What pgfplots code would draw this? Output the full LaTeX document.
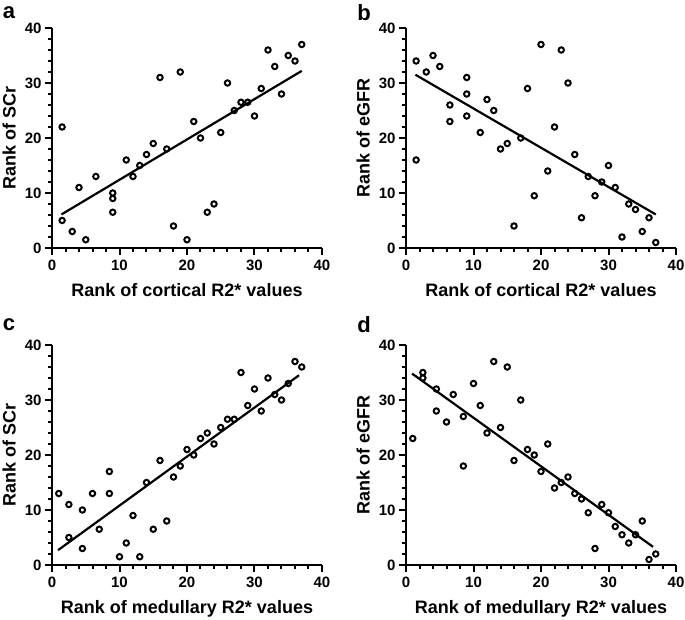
\documentclass[border=0pt]{standalone}
\usepackage{fontspec}
\setmainfont{Liberation Sans}
\usepackage{pgfplots}
\pgfplotsset{compat=1.18}

\pgfplotsset{
  rankpanel/.style={
    scale only axis, width=270pt, height=220pt,
    xmin=0, xmax=40, ymin=0, ymax=40,
    axis x line=bottom, axis y line=left,
    x axis line style={-, line width=2.5pt, black},
    y axis line style={-, line width=2.5pt, black},
    xtick={0,10,20,30,40}, ytick={0,10,20,30,40},
    xticklabels={\textbf{0},\textbf{10},\textbf{20},\textbf{30},\textbf{40}},
    yticklabels={\textbf{0},\textbf{10},\textbf{20},\textbf{30},\textbf{40}},
    xtick align=outside, ytick align=outside,
    major tick length=7pt,
    xtick style={black, line width=2pt},
    ytick style={black, line width=2pt},
    tick label style={font=\fontsize{15}{15}\selectfont\bfseries},
    xticklabel style={yshift=-1pt},
    label style={font=\fontsize{18}{18}\selectfont\bfseries},
    xlabel style={yshift=-6pt},
    ylabel style={yshift=2pt},
    clip=false,
  },
  pts/.style={only marks, mark=o, mark size=2.7pt, black, mark options={line width=2pt}},
  fit/.style={black, line width=2.2pt, no marks},
}

% tick marks along both axes: majors every 10, minors every 2
\newcommand{\rankticks}{%
  \pgfplotsinvokeforeach{0,10,20,30,40}{%
    \fill[black] (axis cs:##1,0) ++(-1pt,0pt) rectangle ++(2pt,-7pt);
    \fill[black] (axis cs:0,##1) ++(0pt,-1pt) rectangle ++(-7pt,2pt);}%
  \pgfplotsinvokeforeach{2,4,6,8,12,14,16,18,22,24,26,28,32,34,36,38}{%
    \fill[black] (axis cs:##1,0) ++(-1pt,0pt) rectangle ++(2pt,-4.5pt);
    \fill[black] (axis cs:0,##1) ++(0pt,-1pt) rectangle ++(-4.5pt,2pt);}%
}

\pgfplotstableread{
x y
1.5 22
1.5 5
3 3
4 11
5 1.5
6.5 13
9 10
9 9
9 6.5
11 16
12 13
13 15
14 17
15 19
16 31
17 18
18 4
19 32
20 1.5
21 23
22 20
23 6.5
24 8
25 21
26 30
27 25
28 26.5
29 26.5
30 24
31 29
32 36
33 33
34 28
35 35
36 34
37 37
}\dataA

\pgfplotstableread{
x y
1.5 34
1.5 16
3 32
4 35
5 33
6.5 26
6.5 23
9 31
9 28
9 24
11 21
12 27
13 25
14 18
15 19
16 4
17 20
18 29
19 9.5
20 37
21 14
22 22
23 36
24 30
25 17
26 5.5
27 13
28 9.5
29 12
30 15
31 11
32 2
33 8
34 7
35 3
36 5.5
37 1
}\dataB

\pgfplotstableread{
x y
1 13
2.5 11
2.5 5
4.5 10
4.5 3
6 13
7 6.5
8.5 17
8.5 13
10 1.5
11 4
12 9
13 1.5
14 15
15 6.5
16 19
17 8
18 16
19 18
20 21
21 20
22 23
23 24
24 22
25 25
26 26.5
27 26.5
28 35
29 29
30 32
31 28
32 34
33 31
34 30
35 33
36 37
37 36
}\dataC

\pgfplotstableread{
x y
1 23
2.5 35
2.5 34
4.5 32
4.5 28
6 26
7 31
8.5 27
8.5 18
10 33
11 29
12 24
13 37
14 25
15 36
16 19
17 30
18 21
19 20
20 17
21 22
22 14
23 15
24 16
25 13
26 12
27 9.5
28 3
29 11
30 9.5
31 7
32 5.5
33 4
34 5.5
35 8
36 1
37 2
}\dataD

\begin{document}
\begin{tikzpicture}
\path[use as bounding box] (0,0) rectangle (685pt,620pt);

% a
\begin{axis}[rankpanel, at={(52pt,372pt)}, anchor=south west,
  xlabel={Rank of cortical R2* values}, ylabel={Rank of SCr}]
\addplot[pts] table[x=x,y=y] {\dataA};
\addplot[fit] coordinates {(1.4,6.1) (37,32.2)};
\rankticks
\end{axis}
\node[font=\fontsize{22}{22}\selectfont\bfseries] at (9pt,607pt) {a};

% b
\begin{axis}[rankpanel, at={(406pt,372pt)}, anchor=south west,
  xlabel={Rank of cortical R2* values}, ylabel={Rank of eGFR}]
\addplot[pts] table[x=x,y=y] {\dataB};
\addplot[fit] coordinates {(1.4,31.5) (37,6.1)};
\rankticks
\end{axis}
\node[font=\fontsize{22}{22}\selectfont\bfseries] at (364pt,607pt) {b};

% c
\begin{axis}[rankpanel, at={(52pt,55pt)}, anchor=south west,
  xlabel={Rank of medullary R2* values}, ylabel={Rank of SCr}]
\addplot[pts] table[x=x,y=y] {\dataC};
\addplot[fit] coordinates {(0.9,2.7) (36.6,34.5)};
\rankticks
\end{axis}
\node[font=\fontsize{22}{22}\selectfont\bfseries] at (9pt,295pt) {c};

% d
\begin{axis}[rankpanel, at={(406pt,55pt)}, anchor=south west,
  xlabel={Rank of medullary R2* values}, ylabel={Rank of eGFR}]
\addplot[pts] table[x=x,y=y] {\dataD};
\addplot[fit] coordinates {(0.9,34.8) (36.6,3.3)};
\rankticks
\end{axis}
\node[font=\fontsize{22}{22}\selectfont\bfseries] at (364pt,295pt) {d};
\end{tikzpicture}
\end{document}
